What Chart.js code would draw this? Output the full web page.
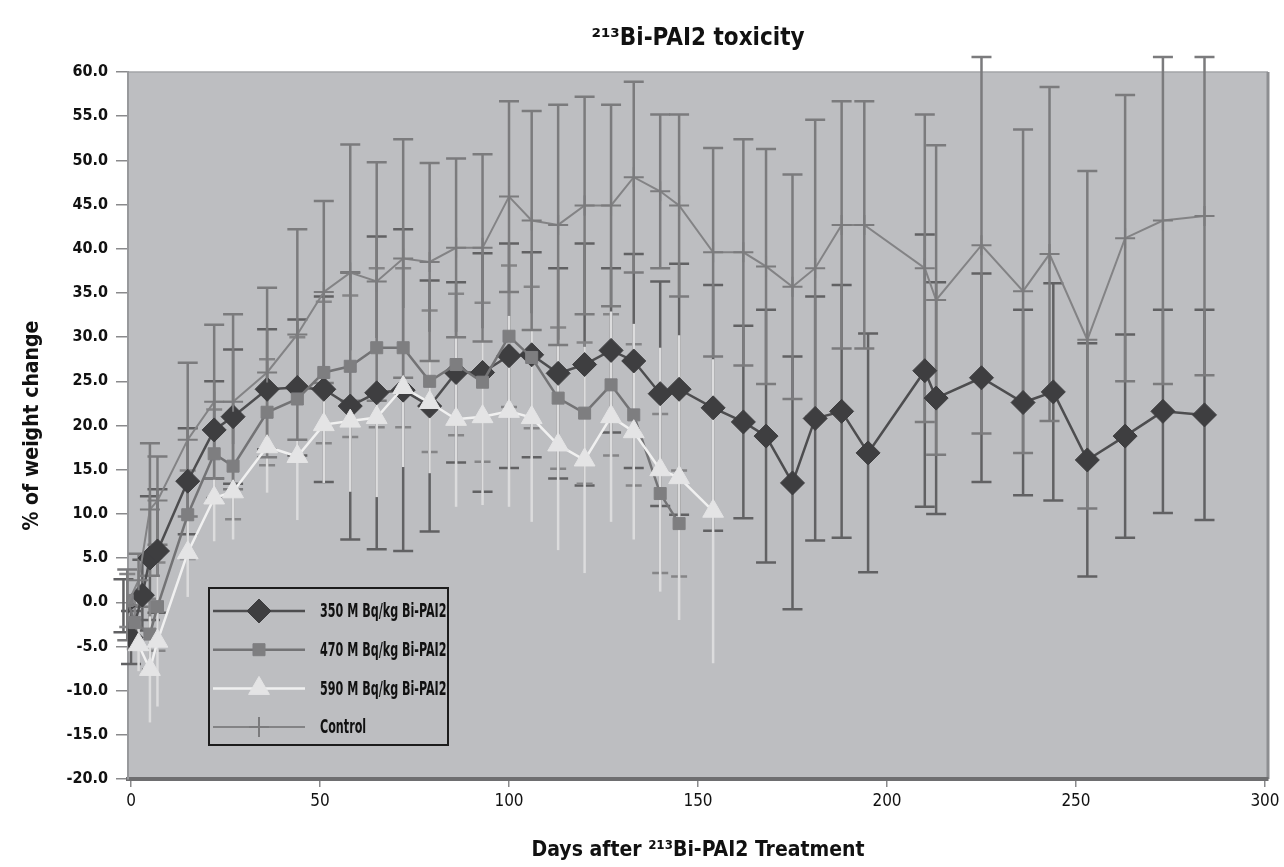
<!DOCTYPE html>
<html>
<head>
<meta charset="utf-8">
<script src="https://cdn.jsdelivr.net/npm/chart.js@4.4.0/dist/chart.umd.min.js"></script>
<style>
  html, body { margin: 0; padding: 0; background: #fff; }
  #wrap { width: 1284px; height: 867px; }
</style>
</head>
<body>
<div id="wrap"><canvas id="chart" width="1284" height="867"></canvas></div>
<script>
var FONT = "'Liberation Sans Narrow', 'DejaVu Sans Condensed', 'Arial Narrow', sans-serif";

var xTicks = [0, 50, 100, 150, 200, 250, 300];
var yTicks = [-20, -15, -10, -5, 0, 5, 10, 15, 20, 25, 30, 35, 40, 45, 50, 55, 60];

var labels = ['350 M Bq/kg Bi-PAI2', '470 M Bq/kg Bi-PAI2', '590 M Bq/kg Bi-PAI2', 'Control'];

// 350 MBq/kg
var days350 = [-2, 0, 3, 5, 7, 15, 22, 27, 36, 44, 51, 58, 65, 72, 79, 86, 93, 100, 106, 113, 120, 127, 133, 140, 145, 154, 162, 168, 175, 181, 188, 195, 210, 213, 225, 236, 244, 253, 263, 273, 284];
var vals350 = [-0.4, -4.0, 0.8, 5.0, 5.8, 13.7, 19.5, 21.0, 24.1, 24.3, 24.1, 22.2, 23.7, 24.0, 22.2, 26.0, 26.0, 27.9, 28.0, 25.9, 26.9, 28.5, 27.3, 23.6, 24.1, 22.0, 20.4, 18.8, 13.5, 20.8, 21.6, 16.9, 26.2, 23.1, 25.4, 22.6, 23.8, 16.1, 18.8, 21.6, 21.2];
var err350 = [3, 3, 4, 7, 7, 6, 5.5, 7.6, 6.8, 7.7, 10.5, 15.1, 17.7, 18.2, 14.2, 10.2, 13.5, 12.7, 11.6, 11.9, 13.7, 9.3, 12.1, 12.7, 14.2, 13.9, 10.9, 14.3, 14.3, 13.8, 14.3, 13.5, 15.4, 13.1, 11.8, 10.5, 12.3, 13.2, 11.5, 11.5, 11.9];

// 470 MBq/kg
var days470 = [-1, 1, 5, 7, 15, 22, 27, 36, 44, 51, 58, 65, 72, 79, 86, 93, 100, 106, 113, 120, 127, 133, 140, 145];
var vals470 = [0.2, -2.3, -3.6, -0.5, 9.9, 16.8, 15.4, 21.5, 23.0, 26.0, 26.7, 28.8, 28.8, 25.0, 26.9, 24.9, 30.1, 27.7, 23.1, 21.4, 24.6, 21.2, 12.3, 8.9];
var err470 = [3, 3, 4, 5, 5, 5, 6, 6, 7, 8, 8, 9, 9, 8, 8, 9, 8, 8, 8, 8, 8, 8, 9, 6];

// 590 MBq/kg
var days590 = [2, 5, 7, 15, 22, 27, 36, 44, 51, 58, 65, 72, 79, 86, 93, 100, 106, 113, 120, 127, 133, 140, 145, 154];
var vals590 = [-4.8, -7.6, -4.4, 5.6, 11.8, 12.5, 17.6, 16.5, 20.1, 20.5, 20.9, 24.3, 22.6, 20.7, 21.0, 21.6, 20.9, 17.8, 16.1, 21.0, 19.3, 15.0, 14.1, 10.3];
var err590 = [3, 6, 7.4, 5, 4.9, 5.4, 5.2, 7.2, 6.6, 8, 9, 9, 8, 9.9, 10, 10.8, 11.8, 11.9, 12.8, 11.9, 12.2, 13.8, 16.1, 17.2];

// Control
var daysCtl = [-1, 2, 5, 7, 15, 22, 27, 36, 44, 51, 58, 65, 72, 79, 86, 93, 100, 106, 113, 120, 127, 133, 140, 145, 154, 162, 168, 175, 181, 188, 194, 210, 213, 225, 236, 243, 253, 263, 273, 284];
var valsCtl = [-0.3, 2.5, 10.5, 11.5, 18.4, 22.7, 22.7, 26.0, 30.3, 35.1, 37.3, 36.3, 38.9, 38.5, 40.1, 40.1, 45.9, 43.2, 42.7, 44.9, 44.9, 48.1, 46.5, 44.9, 39.6, 39.6, 38.0, 35.7, 37.8, 42.7, 42.7, 37.8, 34.2, 40.4, 35.2, 39.4, 29.7, 41.2, 43.2, 43.7];
var errCtl = [4, 3, 7.5, 5, 8.7, 8.7, 9.9, 9.6, 11.9, 10.3, 14.5, 13.5, 13.5, 11.2, 10.1, 10.6, 10.8, 12.4, 13.6, 12.3, 11.4, 10.8, 8.7, 10.3, 11.8, 12.8, 13.3, 12.7, 16.8, 14, 14, 17.4, 17.5, 21.3, 18.3, 18.9, 19.1, 16.2, 18.5, 18];

function pts(days, vals) {
  return days.map(function (d, i) { return { x: d, y: vals[i] }; });
}

// gray plot area and frame
var plotBack = {
  id: 'plotBack',
  beforeDraw: function (chart) {
    var ctx = chart.ctx, a = chart.chartArea;
    ctx.save();
    ctx.fillStyle = '#fff';
    ctx.fillRect(0, 0, chart.width, chart.height);
    ctx.fillStyle = '#bdbec1';
    ctx.fillRect(a.left, a.top, a.right - a.left, a.bottom - a.top);
    ctx.strokeStyle = '#a3a4a7';
    ctx.lineWidth = 1.5;
    ctx.beginPath();
    ctx.moveTo(a.left, a.top);
    ctx.lineTo(a.right, a.top);
    ctx.stroke();
    ctx.strokeStyle = '#8d8e91';
    ctx.lineWidth = 3;
    ctx.beginPath();
    ctx.moveTo(a.right, a.top);
    ctx.lineTo(a.right, a.bottom);
    ctx.stroke();
    ctx.restore();
  }
};

var errorBars = {
  id: 'errorBars',
  beforeDatasetsDraw: function (chart) {
    var ctx = chart.ctx, xs = chart.scales.x, ys = chart.scales.y;
    chart.data.datasets.forEach(function (ds) {
      var c = ds.capWidth / 2;
      ctx.save();
      ctx.strokeStyle = ds.errorColor;
      ctx.lineWidth = 2.5;
      ds.data.forEach(function (p, j) {
        var x = xs.getPixelForValue(p.x);
        var y1 = ys.getPixelForValue(p.y + ds.errors[j]);
        var y2 = ys.getPixelForValue(p.y - ds.errors[j]);
        ctx.beginPath();
        ctx.moveTo(x, y1); ctx.lineTo(x, y2);
        if (c > 0) {
          ctx.moveTo(x - c, y1); ctx.lineTo(x + c, y1);
          ctx.moveTo(x - c, y2); ctx.lineTo(x + c, y2);
        }
        ctx.stroke();
      });
      ctx.restore();
    });
  }
};

var boxLegend = {
  id: 'boxLegend',
  afterDatasetsDraw: function (chart) {
    var ctx = chart.ctx;
    var bx = 209, by = 588, bw = 239, bh = 157;
    ctx.save();
    ctx.fillStyle = '#bdbec1';
    ctx.fillRect(bx, by, bw, bh);
    ctx.strokeStyle = '#1c1c1c';
    ctx.lineWidth = 2;
    ctx.strokeRect(bx, by, bw, bh);
    chart.data.datasets.forEach(function (ds, i) {
      var y = by + 23 + i * 38.7;
      ctx.strokeStyle = ds.borderColor;
      ctx.lineWidth = ds.borderWidth;
      ctx.beginPath();
      ctx.moveTo(bx + 4, y);
      ctx.lineTo(bx + 96, y);
      ctx.stroke();
      ctx.fillStyle = ds.pointBackgroundColor;
      ctx.strokeStyle = ds.pointBorderColor;
      ctx.lineWidth = ds.pointBorderWidth;
      Chart.helpers.drawPoint(ctx, {
        pointStyle: ds.pointStyle, radius: ds.pointRadius, rotation: 0, borderWidth: ds.pointBorderWidth
      }, bx + 50, y);
      // narrow lettering, as in the original
      ctx.save();
      ctx.translate(bx + 111, y + 1);
      ctx.scale(0.62, 1);
      ctx.fillStyle = '#111';
      ctx.font = 'bold 20px ' + FONT;
      ctx.textBaseline = 'middle';
      ctx.textAlign = 'left';
      ctx.fillText(ds.label, 0, 0);
      ctx.restore();
    });
    ctx.restore();
  }
};

new Chart(document.getElementById('chart'), {
  type: 'line',
  data: {
    datasets: [
      {
        label: labels[0], data: pts(days350, vals350), errors: err350, errorColor: '#616163', capWidth: 20,
        borderColor: '#4d4d4f', borderWidth: 2.5, pointStyle: 'rectRot', pointRadius: 12,
        pointBackgroundColor: '#3e3e40', pointBorderColor: '#3e3e40', pointBorderWidth: 1, order: 4
      },
      {
        label: labels[1], data: pts(days470, vals470), errors: err470, errorColor: '#858587', capWidth: 16,
        borderColor: '#737375', borderWidth: 2.5, pointStyle: 'rect', pointRadius: 8.5,
        pointBackgroundColor: '#7e7e80', pointBorderColor: '#7e7e80', pointBorderWidth: 1, order: 3
      },
      {
        label: labels[2], data: pts(days590, vals590), errors: err590, errorColor: '#dcdcdd', capWidth: 0,
        borderColor: '#f0f0f0', borderWidth: 2.5, pointStyle: 'triangle', pointRadius: 12,
        pointBackgroundColor: '#e4e4e5', pointBorderColor: '#e4e4e5', pointBorderWidth: 1, order: 2
      },
      {
        label: labels[3], data: pts(daysCtl, valsCtl), errors: errCtl, errorColor: '#7b7b7d', capWidth: 20,
        borderColor: '#838385', borderWidth: 2, pointStyle: 'cross', pointRadius: 10,
        pointBackgroundColor: '#7b7b7d', pointBorderColor: '#7b7b7d', pointBorderWidth: 2, order: 1
      }
    ]
  },
  options: {
    responsive: false,
    animation: false,
    layout: { padding: { left: 0, right: 16, top: 0, bottom: 0 } },
    elements: { line: { tension: 0 } },
    plugins: {
      legend: { display: false },
      tooltip: { enabled: false },
      title: {
        display: true,
        fullSize: false,
        text: '²¹³Bi-PAI2 toxicity',
        color: '#111',
        font: { family: FONT, size: 24, weight: 'bold' },
        padding: { top: 24, bottom: 19.2 }
      }
    },
    scales: {
      x: {
        type: 'linear',
        min: -0.8,
        max: 300.8,
        afterBuildTicks: function (s) { s.ticks = xTicks.map(function (v) { return { value: v }; }); },
        afterFit: function (s) { s.height = 88; },
        grid: { drawOnChartArea: false, drawTicks: true, tickLength: 8, color: '#8a8a8c', lineWidth: 1.5 },
        border: { display: true, color: '#6e6e70', width: 4 },
        ticks: { color: '#111', font: { family: FONT, size: 17 }, padding: 4, maxRotation: 0 },
        title: {
          display: true,
          text: 'Days after ²¹³Bi-PAI2 Treatment',
          color: '#111',
          font: { family: FONT, size: 21, weight: 'bold' },
          padding: { top: 0, bottom: 4 }
        }
      },
      y: {
        min: -20,
        max: 60,
        afterBuildTicks: function (s) { s.ticks = yTicks.map(function (v) { return { value: v }; }); },
        afterFit: function (s) { s.width = 128; },
        grid: { drawOnChartArea: false, drawTicks: true, tickLength: 12, color: '#8a8a8c', lineWidth: 1.5 },
        border: { display: true, color: '#98999c', width: 2 },
        ticks: {
          color: '#111', font: { family: FONT, size: 16, weight: 'bold' }, padding: 8,
          callback: function (v) { return v.toFixed(1); }
        },
        title: {
          display: true,
          text: '% of weight change',
          color: '#111',
          font: { family: FONT, size: 21, weight: 'bold' },
          padding: { top: 20, bottom: 0 }
        }
      }
    }
  },
  plugins: [plotBack, errorBars, boxLegend]
});
</script>
</body>
</html>
